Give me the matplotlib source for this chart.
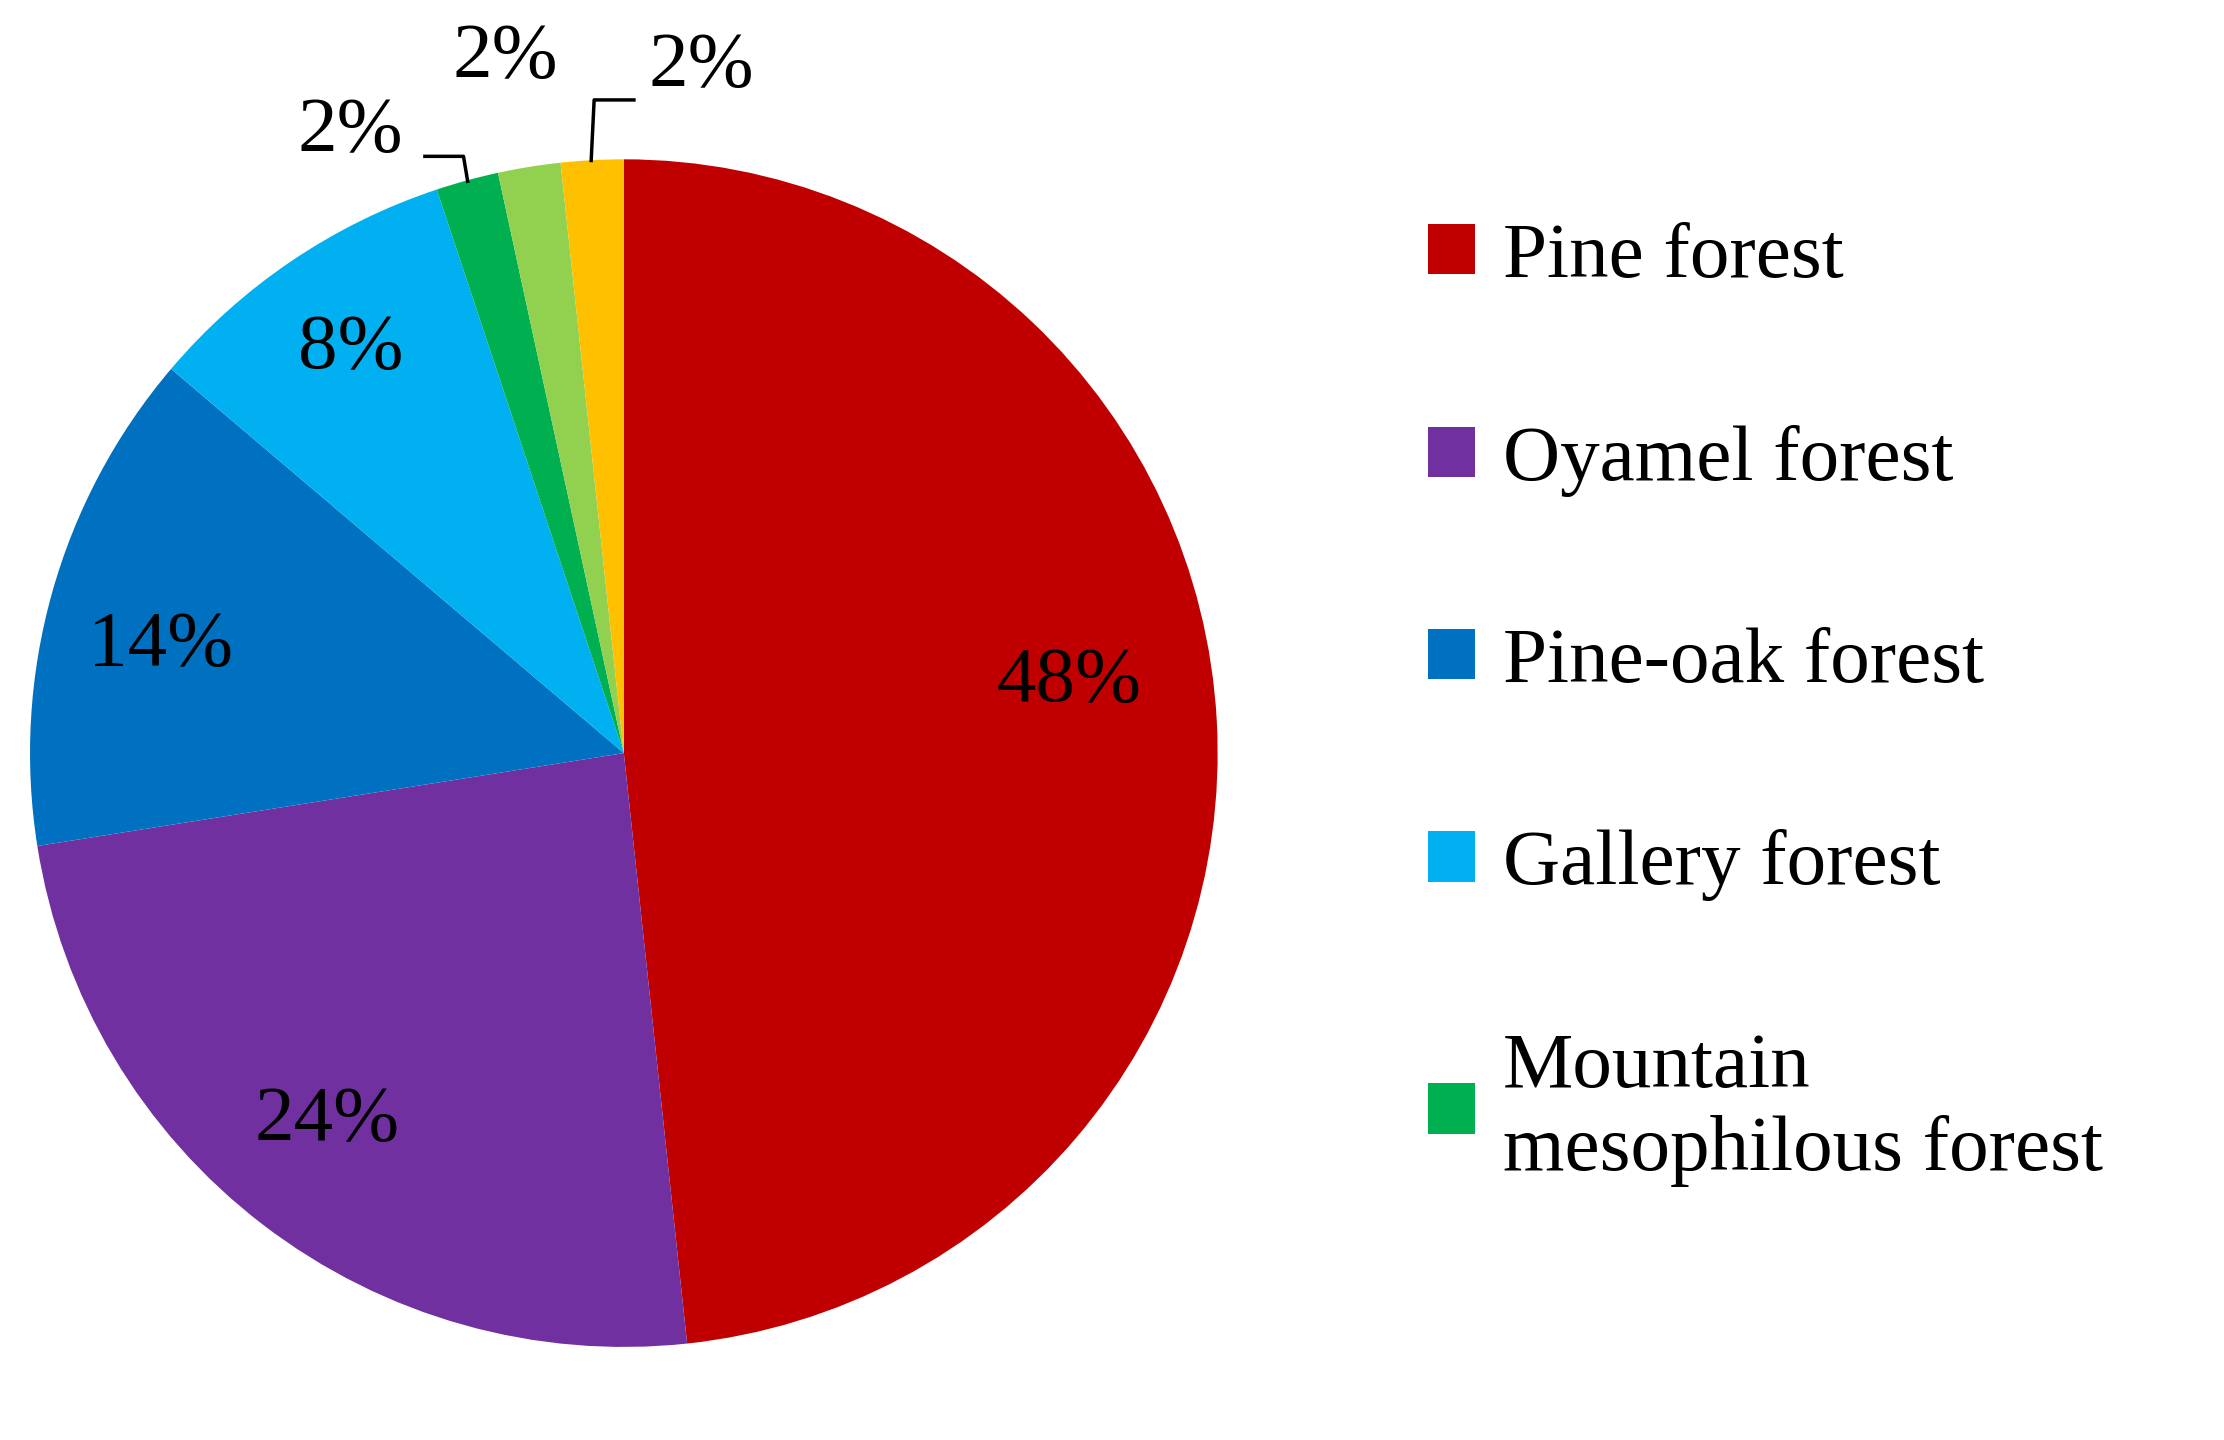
import matplotlib
matplotlib.use("Agg")
import matplotlib.pyplot as plt

categories = ["Pine forest", "Oyamel forest", "Pine-oak forest", "Gallery forest",
              "Mountain\nmesophilous forest", "Other 1", "Other 2"]
values = [48.3, 24.2, 13.7, 8.7, 1.7, 1.7, 1.7]
labels = ["48%", "24%", "14%", "8%", "2%", "2%", "2%"]
colors = ["#C00000", "#7030A0", "#0070C0", "#00B0F0", "#00B050", "#92D050", "#FFC000"]

plt.rcParams['font.family'] = ['Liberation Serif', 'DejaVu Serif']
fig = plt.figure(figsize=(22.24, 14.4), dpi=100)
ax = fig.add_axes([0.0135, 0.0645, 0.534, 0.825])
wedges, _ = ax.pie(values, colors=colors, startangle=90, counterclock=False,
                   radius=1, wedgeprops=dict(linewidth=0))
ax.set_xlim(-1, 1); ax.set_ylim(-1, 1); ax.set_aspect('equal')
ax.set_clip_on(False)

fs = 57
pos = [(0.75, 0.12), (-0.50, -0.62), (-0.78, 0.18), (-0.46, 0.68),
       (-0.46, 1.045), (-0.20, 1.17), (0.13, 1.155)]
for (x, y), t in zip(pos, labels):
    ax.text(x, y, t, ha='center', va='center', fontsize=fs, clip_on=False)
lk = dict(color='black', lw=2.5, clip_on=False)
ax.plot([-0.335, -0.27, -0.263], [1.005, 1.005, 0.963], **lk)
ax.plot([0.017, -0.05, -0.055], [1.1, 1.1, 0.998], **lk)

ax.legend(wedges[:5], categories[:5], loc='upper left', bbox_to_anchor=(0.61, 0.895),
          bbox_transform=fig.transFigure, frameon=False, fontsize=fs,
          handlelength=0.6, handleheight=0.6, handletextpad=0.35, labelspacing=1.65)
fig.savefig("out.png", dpi=100)
